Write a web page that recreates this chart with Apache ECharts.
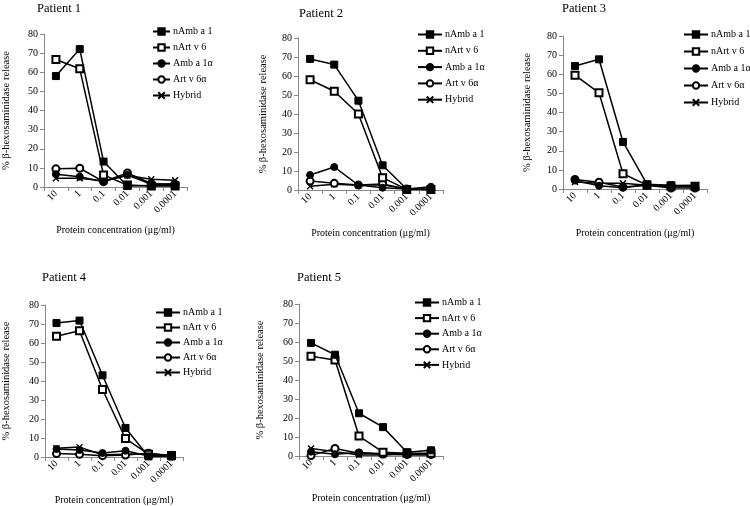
<!DOCTYPE html>
<html><head><meta charset="utf-8">
<script src="https://cdn.jsdelivr.net/npm/echarts@6/dist/echarts.min.js"></script>
<style>html,body{margin:0;padding:0;background:#fff}#c{width:750px;height:506px}</style>
</head><body><div id="c"></div>
<script>
const categories = ['10', '1', '0.1', '0.01', '0.001', '0.0001'];
const seriesNames = ['nAmb a 1', 'nArt v 6', 'Amb a 1α', 'Art v 6α', 'Hybrid'];
const panelTitles = ['Patient 1', 'Patient 2', 'Patient 3', 'Patient 4', 'Patient 5'];
const yTicks = [0, 10, 20, 30, 40, 50, 60, 70, 80];

// Patient 1
const p1_nAmb = [58, 72.1, 13.3, 0.5, 0.8, 0.8];
const p1_nArt = [66.7, 61.8, 6.3, 1.0, 0.5, 0.5];
const p1_Amb  = [6.7, 5.4, 2.8, 6.3, 1.4, 1.7];
const p1_Art  = [9.5, 9.8, 2.8, 7.3, 1.8, 1.2];
const p1_Hyb  = [4.6, 4.6, 3.2, 6.0, 4.1, 3.5];
// Patient 2
const p2_nAmb = [69, 66, 47, 13, 0.5, 0.3];
const p2_nArt = [58, 52, 40, 6.5, 0.3, 0.3];
const p2_Amb  = [7.9, 12.1, 2.6, 1.2, 0.5, 1.7];
const p2_Art  = [4.7, 3.5, 2.6, 3.2, 0.5, 0.3];
const p2_Hyb  = [2.0, 3.0, 2.5, 2.7, 0.5, 0.3];
// Patient 3
const p3_nAmb = [64.3, 67.8, 24.6, 2.5, 2.0, 1.0];
const p3_nArt = [59.5, 50.3, 8.0, 2.0, 1.5, 1.5];
const p3_Amb  = [4.4, 1.7, 0.7, 2.2, 1.2, 1.5];
const p3_Art  = [5.0, 3.5, 1.0, 2.0, 0.5, 0.5];
const p3_Hyb  = [3.6, 3.0, 3.0, 2.0, 1.8, 2.0];
// Patient 4
const p4_nAmb = [70.5, 71.8, 43, 15.3, 0.3, 0.3];
const p4_nArt = [63.5, 66.5, 35.5, 9.7, 1.5, 0.8];
const p4_Amb  = [4.2, 3.7, 2.1, 3.3, 0.5, 1.2];
const p4_Art  = [1.8, 1.4, 0.7, 1.0, 2.0, 0.5];
const p4_Hyb  = [4.6, 5.2, 1.2, 1.5, 1.8, 0.8];
// Patient 5
const p5_nAmb = [59.5, 53.3, 22.5, 15.2, 2.0, 3.0];
const p5_nArt = [52.5, 50.5, 10.5, 2.0, 1.5, 1.5];
const p5_Amb  = [2.3, 0.9, 1.9, 1.2, 0.5, 0.5];
const p5_Art  = [0.2, 4.0, 1.5, 1.0, 1.0, 1.0];
const p5_Hyb  = [4.0, 2.3, 0.5, 0.5, 1.0, 1.0];

const panelData = [
  [p1_nAmb, p1_nArt, p1_Amb, p1_Art, p1_Hyb],
  [p2_nAmb, p2_nArt, p2_Amb, p2_Art, p2_Hyb],
  [p3_nAmb, p3_nArt, p3_Amb, p3_Art, p3_Hyb],
  [p4_nAmb, p4_nArt, p4_Amb, p4_Art, p4_Hyb],
  [p5_nAmb, p5_nArt, p5_Amb, p5_Art, p5_Hyb]
];

const FONT = '"Liberation Serif", "DejaVu Serif", serif';
const grids = [
  {left: 40, top: 34, width: 147, height: 153},
  {left: 298, top: 38, width: 145, height: 152},
  {left: 563, top: 36, width: 144, height: 153},
  {left: 40, top: 305, width: 143, height: 152},
  {left: 299, top: 304, width: 144, height: 152}
];
const titlePos = [
  {left: 37, top: 2}, {left: 299, top: 7}, {left: 562, top: 2},
  {left: 42, top: 271}, {left: 297, top: 271}
];
const legendPos = [
  {left: 152, top: 26, gap: 5, w: 17},
  {left: 417, top: 29, gap: 5.3, w: 24},
  {left: 683, top: 29, gap: 6, w: 24},
  {left: 155, top: 307, gap: 4, w: 24},
  {left: 414, top: 297, gap: 4.6, w: 24}
];
const yNameGap = [32, 29, 30, 33, 33];
const xNameGap = [38, 38, 39, 38, 37];

const symbols = ['rect', 'emptyRect', 'circle', 'emptyCircle', 'path://M0,0L10,10M10,0L0,10'];

const option = {
  animation: false,
  backgroundColor: '#fff',
  title: panelTitles.map((t, i) => ({
    text: t, left: titlePos[i].left, top: titlePos[i].top, padding: 0,
    textStyle: {fontFamily: FONT, fontSize: 12.5, fontWeight: 'normal', color: '#000'}
  })),
  grid: grids.map(g => Object.assign({}, g)),
  legend: legendPos.map((p, i) => ({
    orient: 'vertical', left: p.left, top: p.top, itemGap: p.gap, padding: 0,
    itemWidth: p.w, itemHeight: 8,
    data: seriesNames.map(n => ({name: n})),
    textStyle: {fontFamily: FONT, fontSize: 10, color: '#000', lineHeight: 11, padding: [0, 0, 0, -2]},
    selectedMode: false
  })),
  xAxis: grids.map((g, i) => ({
    type: 'category', gridIndex: i, data: categories, boundaryGap: true,
    name: 'Protein concentration (μg/ml)', nameLocation: 'middle', nameGap: xNameGap[i],
    nameTextStyle: {fontFamily: FONT, fontSize: 10, color: '#000'},
    axisLine: {lineStyle: {color: '#888', width: 1}},
    axisTick: {show: true, length: 4, lineStyle: {color: '#888'}},
    axisLabel: {rotate: 45, fontFamily: FONT, fontSize: 10, color: '#000', margin: 5, interval: 0}
  })),
  yAxis: grids.map((g, i) => ({
    type: 'value', gridIndex: i, min: 0, max: 80, interval: 10,
    name: '% β-hexosaminidase release', nameLocation: 'middle', nameGap: yNameGap[i],
    nameTextStyle: {fontFamily: FONT, fontSize: 10.5, color: '#000'},
    axisLine: {show: true, lineStyle: {color: '#888', width: 1}},
    axisTick: {show: true, length: 4, lineStyle: {color: '#888'}},
    splitLine: {show: false},
    axisLabel: {fontFamily: FONT, fontSize: 10, color: '#000', margin: 6}
  })),
  series: []
};

panelData.forEach((arrs, pi) => {
  arrs.forEach((vals, si) => {
    const isX = si === 4;
    option.series.push({
      type: 'line', name: seriesNames[si], xAxisIndex: pi, yAxisIndex: pi,
      data: vals, symbol: symbols[si], symbolSize: isX ? 6 : 7, showAllSymbol: true,
      lineStyle: {color: '#000', width: 1.5},
      itemStyle: {color: '#000', borderColor: '#000', borderWidth: isX ? 1.4 : 1},
      z: 10 - si
    });
  });
});

const chart = echarts.init(document.getElementById('c'), null, {renderer: 'canvas'});
chart.setOption(option);
</script></body></html>
